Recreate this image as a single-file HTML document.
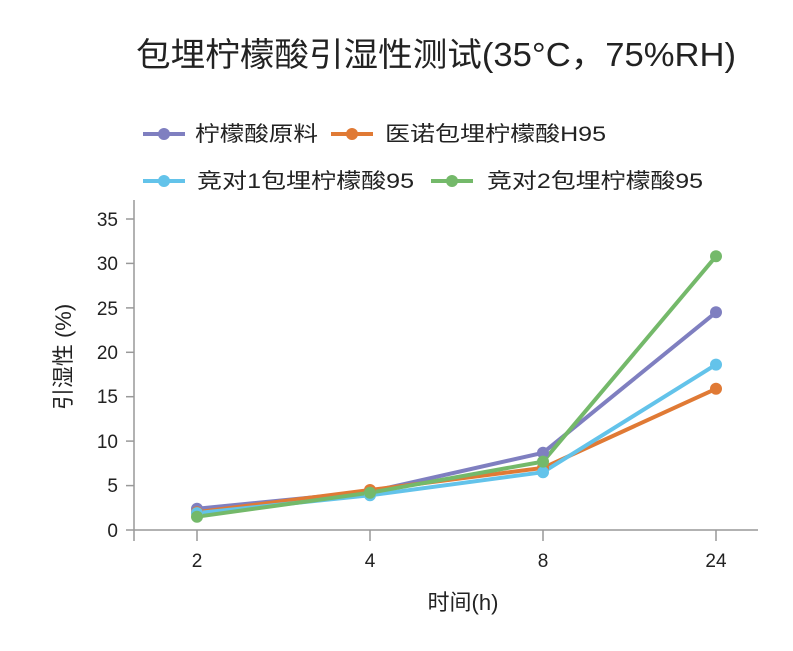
<!DOCTYPE html>
<html><head><meta charset="utf-8"><style>
html,body{margin:0;padding:0;background:#fff;}
svg text{font-family:"Liberation Sans","Noto Sans CJK SC",sans-serif;fill:#222;}
</style></head><body>
<svg width="793" height="646" viewBox="0 0 793 646" xmlns="http://www.w3.org/2000/svg">
<rect width="793" height="646" fill="#fff"/>
<text x="136" y="66" font-size="33" textLength="600" lengthAdjust="spacingAndGlyphs">包埋柠檬酸引湿性测试(35°C，75%RH)</text>
<g font-size="21">
<line x1="143" y1="134" x2="185" y2="134" stroke="#7f7fc0" stroke-width="4"/><circle cx="164" cy="134" r="6" fill="#7f7fc0"/>
<text x="195" y="141" textLength="123" lengthAdjust="spacingAndGlyphs">柠檬酸原料</text>
<line x1="331" y1="134" x2="373" y2="134" stroke="#e07a35" stroke-width="4"/><circle cx="352" cy="134" r="6" fill="#e07a35"/>
<text x="385" y="141" textLength="221" lengthAdjust="spacingAndGlyphs">医诺包埋柠檬酸H95</text>
<line x1="143" y1="181" x2="185" y2="181" stroke="#63c3ea" stroke-width="4"/><circle cx="164" cy="181" r="6" fill="#63c3ea"/>
<text x="197" y="188" textLength="217" lengthAdjust="spacingAndGlyphs">竞对1包埋柠檬酸95</text>
<line x1="431" y1="181" x2="473" y2="181" stroke="#74b96a" stroke-width="4"/><circle cx="452" cy="181" r="6" fill="#74b96a"/>
<text x="487" y="188" textLength="216" lengthAdjust="spacingAndGlyphs">竞对2包埋柠檬酸95</text>
</g>
<g stroke="#999" stroke-width="1.5">
<line x1="134" y1="200" x2="134" y2="541"/>
<line x1="134" y1="530" x2="758" y2="530"/>
<line x1="126" y1="530" x2="134" y2="530"/><line x1="126" y1="485.6" x2="134" y2="485.6"/><line x1="126" y1="441.1" x2="134" y2="441.1"/><line x1="126" y1="396.7" x2="134" y2="396.7"/><line x1="126" y1="352.3" x2="134" y2="352.3"/><line x1="126" y1="307.9" x2="134" y2="307.9"/><line x1="126" y1="263.4" x2="134" y2="263.4"/><line x1="126" y1="219" x2="134" y2="219"/>
<line x1="197" y1="530" x2="197" y2="541"/><line x1="370" y1="530" x2="370" y2="541"/><line x1="543" y1="530" x2="543" y2="541"/><line x1="716" y1="530" x2="716" y2="541"/>
</g>
<g font-size="19" text-anchor="end">
<text x="118" y="537">0</text><text x="118" y="492">5</text><text x="118" y="448">10</text><text x="118" y="403">15</text><text x="118" y="359">20</text><text x="118" y="315">25</text><text x="118" y="270">30</text><text x="118" y="226">35</text>
</g>
<g font-size="19" text-anchor="middle">
<text x="197" y="567">2</text><text x="370" y="567">4</text><text x="543" y="567">8</text><text x="716" y="567">24</text>
</g>
<text x="463" y="610" font-size="22" text-anchor="middle">时间(h)</text>
<text transform="translate(71,357) rotate(-90)" font-size="22" text-anchor="middle">引湿性 (%)</text>
<g stroke-width="4" fill="none" stroke-linejoin="round">
<polyline stroke="#7f7fc0" points="197,508.7 370,491.8 543,452.8 716,312.3"/>
<polyline stroke="#e07a35" points="197,512.2 370,490 543,467.9 716,388.8"/>
<polyline stroke="#63c3ea" points="197,513.1 370,495.3 543,472.2 716,364.6"/>
<polyline stroke="#74b96a" points="197,516.7 370,492.7 543,461.6 716,256.3"/>
</g>
<g fill="#7f7fc0"><circle cx="197" cy="508.7" r="6"/><circle cx="370" cy="491.8" r="6"/><circle cx="543" cy="452.8" r="6"/><circle cx="716" cy="312.3" r="6"/></g>
<g fill="#e07a35"><circle cx="197" cy="512.2" r="6"/><circle cx="370" cy="490" r="6"/><circle cx="543" cy="467.9" r="6"/><circle cx="716" cy="388.8" r="6"/></g>
<g fill="#63c3ea"><circle cx="197" cy="513.1" r="6"/><circle cx="370" cy="495.3" r="6"/><circle cx="543" cy="472.2" r="6"/><circle cx="716" cy="364.6" r="6"/></g>
<g fill="#74b96a"><circle cx="197" cy="516.7" r="6"/><circle cx="370" cy="492.7" r="6"/><circle cx="543" cy="461.6" r="6"/><circle cx="716" cy="256.3" r="6"/></g>
</svg>
</body></html>
